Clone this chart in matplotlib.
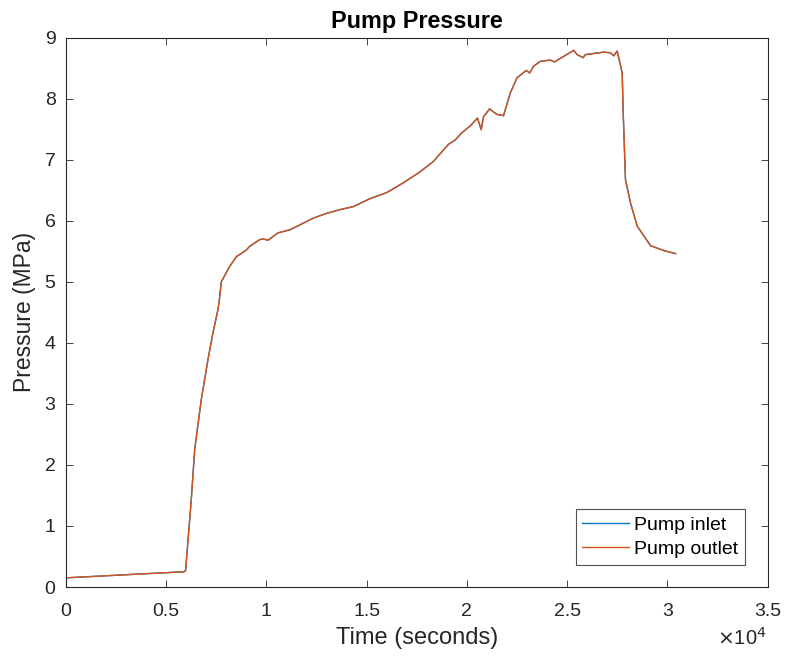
import matplotlib
matplotlib.use("Agg")
import matplotlib.pyplot as plt
from matplotlib.ticker import FuncFormatter

plt.rcParams['font.family'] = ['Liberation Sans', 'DejaVu Sans']

time_s = [0, 5900, 5965, 6050, 6250, 6420, 6750, 7080, 7330, 7580, 7650, 7750,
          8000, 8165, 8500, 9000, 9165, 9665, 9830, 10080, 10580, 11165, 11665,
          12330, 13000, 13665, 14330, 15165, 16000, 16830, 17665, 18330, 19080,
          19415, 19750, 20165, 20530, 20715, 20830, 21130, 21500, 21830, 22165,
          22500, 22965, 23130, 23330, 23665, 24165, 24365, 24830, 25330, 25500,
          25800, 25915, 26830, 27165, 27330, 27500, 27750, 27800, 27915, 28165,
          28500, 29165, 29830, 30415]

outlet_mpa = [0.15, 0.25, 0.27, 0.61, 1.43, 2.25, 3.07, 3.72, 4.16, 4.54, 4.70, 5.00,
              5.15, 5.25, 5.41, 5.52, 5.58, 5.69, 5.70, 5.68, 5.80, 5.85, 5.93,
              6.04, 6.12, 6.18, 6.23, 6.36, 6.46, 6.62, 6.80, 6.97, 7.25,
              7.32, 7.44, 7.55, 7.68, 7.49, 7.70, 7.83, 7.74, 7.72, 8.09,
              8.34, 8.46, 8.42, 8.53, 8.61, 8.63, 8.60, 8.69, 8.79, 8.72,
              8.67, 8.72, 8.76, 8.75, 8.70, 8.78, 8.42, 7.77, 6.67, 6.29,
              5.91, 5.59, 5.51, 5.46]

inlet_mpa = [0.15, 0.25, 0.27, 0.61, 1.43, 2.25, 3.07, 3.72, 4.16, 4.54, 4.70, 5.00,
             5.15, 5.25, 5.41, 5.52, 5.58, 5.69, 5.70, 5.68, 5.80, 5.85, 5.93,
             6.04, 6.12, 6.18, 6.23, 6.36, 6.46, 6.62, 6.80, 6.97, 7.25,
             7.32, 7.44, 7.55, 7.68, 7.49, 7.70, 7.83, 7.74, 7.72, 8.09,
             8.34, 8.46, 8.42, 8.53, 8.61, 8.63, 8.60, 8.69, 8.79, 8.72,
             8.67, 8.72, 8.76, 8.75, 8.70, 8.78, 8.42, 7.77, 6.67, 6.29,
             5.91, 5.59, 5.51, 5.46]

x_ticks = [0, 5000, 10000, 15000, 20000, 25000, 30000, 35000]
y_ticks = [0, 1, 2, 3, 4, 5, 6, 7, 8, 9]

W, H = 787, 659
fig = plt.figure(figsize=(W / 100, H / 100), dpi=100)
left, right, top, bottom = 66, 767.5, 37.5, 587
ax = fig.add_axes([left / W, 1 - bottom / H, (right - left) / W, (bottom - top) / H])

axcol = '#262626'
ax.plot(time_s, inlet_mpa, color='#0072BD', lw=1.0, label='Pump inlet')
ax.plot(time_s, outlet_mpa, color='#D95319', lw=1.0, label='Pump outlet')

ax.set_xlim(0, 35000)
ax.set_ylim(0, 9)
ax.set_xticks(x_ticks)
ax.set_yticks(y_ticks)
ax.xaxis.set_major_formatter(FuncFormatter(lambda v, p: f"{v/1e4:g}"))

ax.tick_params(direction='in', length=5, width=0.6, colors=axcol,
               labelsize=14, top=True, right=True)
ax.tick_params(axis='x', pad=11.5)
ax.tick_params(axis='y', pad=7.5)
for s in ax.spines.values():
    s.set_color(axcol)
    s.set_linewidth(0.8)

ax.set_title('Pump Pressure', fontsize=16.8, fontweight='bold', pad=6.5, color='black')
ax.set_xlabel('Time (seconds)', fontsize=17, color=axcol, labelpad=5)
ax.set_ylabel('Pressure (MPa)', fontsize=16.5, color=axcol, labelpad=6)

fig.text(767 / W, 1 - 638 / H, r'$\times$10$^{4}$', ha='right', va='center',
         fontsize=14.5, color=axcol)

leg = ax.legend(loc='lower right', bbox_to_anchor=(1 - 22.5 / (right - left), 22 / (bottom - top)),
                borderaxespad=0, fontsize=14, frameon=True, fancybox=False,
                handlelength=2.4, handletextpad=0.26, borderpad=0.35, labelspacing=0.35)
leg.get_frame().set_edgecolor(axcol)
leg.get_frame().set_linewidth(0.8)

fig.savefig('out.png', dpi=100)
